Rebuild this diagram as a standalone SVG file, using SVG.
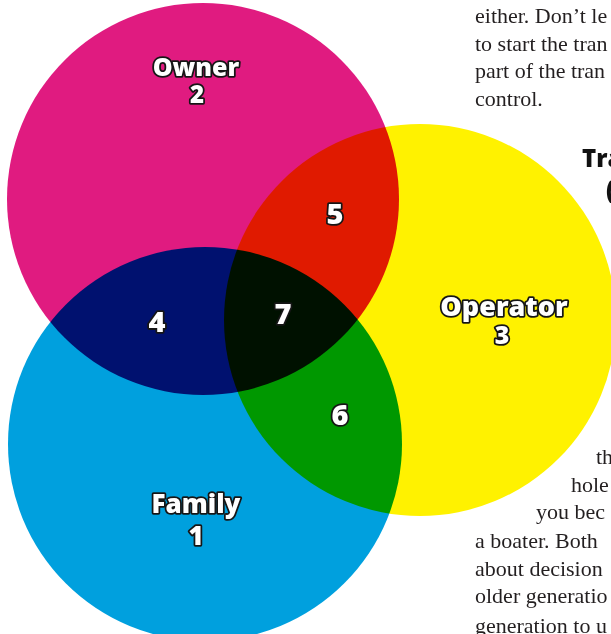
<svg xmlns="http://www.w3.org/2000/svg" width="611" height="634" viewBox="0 0 611 634">
  <style>
    .set { mix-blend-mode: multiply; }
    .owner { fill: #E01B80; }
    .operator { fill: #FFF200; }
    .family { fill: #00A0DE; }
    .lbl {
      font-family: "Open Sans", "Liberation Sans", sans-serif;
      font-weight: 800;
      fill: #ffffff;
      stroke: #161616;
      stroke-width: 3.6;
      stroke-linejoin: round;
      paint-order: stroke;
      text-anchor: middle;
    }
    .num { font-size: 29px; }
    .body {
      font-family: "Liberation Serif", "DejaVu Serif", serif;
      font-size: 22px;
      fill: #231f20;
    }
    .head {
      font-family: "Open Sans", "Liberation Sans", sans-serif;
      font-weight: 800;
      font-size: 24px;
      fill: #111111;
    }
  </style>

  <rect width="611" height="634" fill="#ffffff"/>

  <!-- three overlapping sets; overlaps come from multiply blending -->
  <g id="diagram" style="isolation:isolate">
    <g id="node-owner">
      <circle class="set owner" cx="203" cy="199" r="196"/>
      <text class="lbl" x="196" y="76" font-size="25">Owner</text>
      <text class="lbl" x="197" y="103" font-size="24">2</text>
    </g>
    <g id="node-family">
      <circle class="set family" cx="205" cy="444" r="197"/>
      <text class="lbl" x="196" y="512.5" font-size="26">Family</text>
      <text class="lbl" x="196" y="545" font-size="26">1</text>
    </g>
    <g id="node-operator">
      <circle class="set operator" cx="420" cy="320" r="196"/>
      <text class="lbl" x="504" y="316" font-size="27">Operator</text>
      <text class="lbl" x="502" y="344" font-size="25">3</text>
    </g>

    <!-- overlap regions -->
    <g id="region-owner-family">
      <text class="lbl num" x="157" y="331.5">4</text>
    </g>
    <g id="region-owner-operator">
      <text class="lbl num" x="335" y="223.5">5</text>
    </g>
    <g id="region-family-operator">
      <text class="lbl num" x="340" y="425">6</text>
    </g>
    <g id="region-all">
      <text class="lbl num" x="283" y="323.5">7</text>
    </g>
  </g>

  <!-- surrounding page copy, running off the right edge -->
  <g id="page-text">
    <text class="body" x="475" y="23">either. Don’t le</text>
    <text class="body" x="475" y="51">to start the tran</text>
    <text class="body" x="475" y="78">part of the tran</text>
    <text class="body" x="475" y="106">control.</text>

    <text class="head" x="582" y="167">Tra</text>
    <text class="head" x="606" y="199" font-size="14">(</text>

    <text class="body" x="596" y="464">th</text>
    <text class="body" x="571" y="492">hole</text>
    <text class="body" x="536" y="519">you bec</text>
    <text class="body" x="475" y="548">a boater. Both</text>
    <text class="body" x="475" y="576">about decision</text>
    <text class="body" x="475" y="603">older generatio</text>
    <text class="body" x="475" y="633">generation to u</text>
  </g>
</svg>
